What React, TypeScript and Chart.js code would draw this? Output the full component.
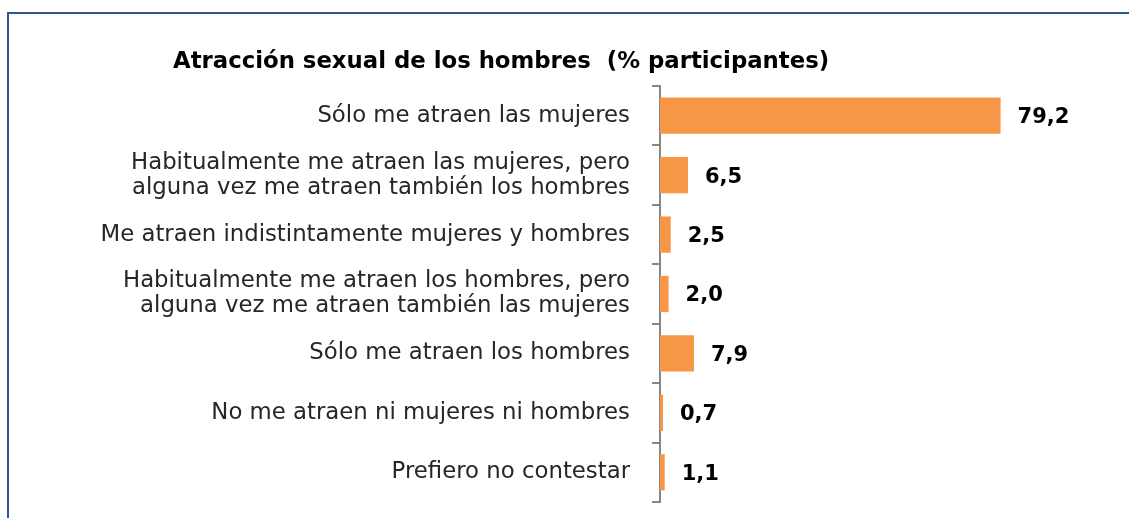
import React, { useEffect, useRef } from "react";
import { Chart, registerables } from "chart.js";

Chart.register(...registerables);

const categories: (string | string[])[] = [
  "Sólo me atraen las mujeres",
  ["Habitualmente me atraen las mujeres, pero", "alguna vez me atraen también los hombres"],
  "Me atraen indistintamente mujeres y hombres",
  ["Habitualmente me atraen los hombres, pero", "alguna vez me atraen también las mujeres"],
  "Sólo me atraen los hombres",
  "No me atraen ni mujeres ni hombres",
  "Prefiero no contestar",
];
const values: number[] = [79.2, 6.5, 2.5, 2.0, 7.9, 0.7, 1.1];
const valueLabels: string[] = ["79,2", "6,5", "2,5", "2,0", "7,9", "0,7", "1,1"];
const titleText = "Atracción sexual de los hombres  (% participantes)";

const FONT = "'DejaVu Sans', sans-serif";

const titlePlugin = {
  id: "customTitle",
  afterDraw(chart: any) {
    const ctx = chart.ctx;
    ctx.save();
    ctx.font = `bold 22.8px ${FONT}`;
    ctx.fillStyle = "#000000";
    ctx.textAlign = "left";
    ctx.textBaseline = "alphabetic";
    ctx.fillText(titleText, 173, 68);
    ctx.restore();
  },
};

const valueLabelPlugin = {
  id: "valueLabels",
  afterDatasetsDraw(chart: any) {
    const ctx = chart.ctx;
    const meta = chart.getDatasetMeta(0);
    ctx.save();
    ctx.font = `bold 21px ${FONT}`;
    ctx.fillStyle = "#000000";
    ctx.textAlign = "left";
    ctx.textBaseline = "middle";
    meta.data.forEach((bar: any, i: number) => {
      ctx.fillText(valueLabels[i], bar.x + 17, bar.y + 2);
    });
    ctx.restore();
  },
};

export default function App() {
  const ref = useRef<HTMLCanvasElement | null>(null);
  useEffect(() => {
    if (!ref.current) return;
    const chart = new Chart(ref.current, {
      type: "bar",
      data: {
        labels: categories,
        datasets: [
          {
            data: values,
            backgroundColor: "#F79646",
            borderWidth: 0,
            categoryPercentage: 1,
            barPercentage: 0.61,
          },
        ],
      },
      options: {
        indexAxis: "y",
        animation: false,
        responsive: false,
        layout: { padding: { left: 0, right: 39, top: 86, bottom: 16 } },
        plugins: {
          legend: { display: false },
          title: { display: false },
          tooltip: { enabled: false },
        },
        scales: {
          x: { display: false, min: 0, max: 100 },
          y: {
            afterFit(scale: any) {
              scale.width = 660;
              scale.paddingTop = 0;
              scale.paddingBottom = 0;
            },
            grid: {
              drawOnChartArea: false,
              drawTicks: true,
              tickLength: 8,
              color: "#868686",
              lineWidth: 2,
              offset: true,
            },
            border: { display: true, color: "#868686", width: 2 },
            ticks: {
              color: "#262626",
              padding: 22,
              font: { family: FONT, size: 22.8, lineHeight: 1.1 },
            },
          },
        },
      },
      plugins: [titlePlugin, valueLabelPlugin],
    });
    return () => chart.destroy();
  }, []);
  return (
    <div style={{ position: "fixed", left: 0, top: 0, width: 1129, height: 518, background: "#fff", overflow: "hidden" }}>
      <div
        style={{
          position: "absolute",
          left: 7,
          top: 12,
          width: 1200,
          height: 600,
          borderLeft: "2px solid #2F5597",
          borderTop: "2px solid #2F5597",
        }}
      />
      <canvas ref={ref} width={1129} height={518} style={{ position: "absolute", left: 0, top: 0 }} />
    </div>
  );
}
